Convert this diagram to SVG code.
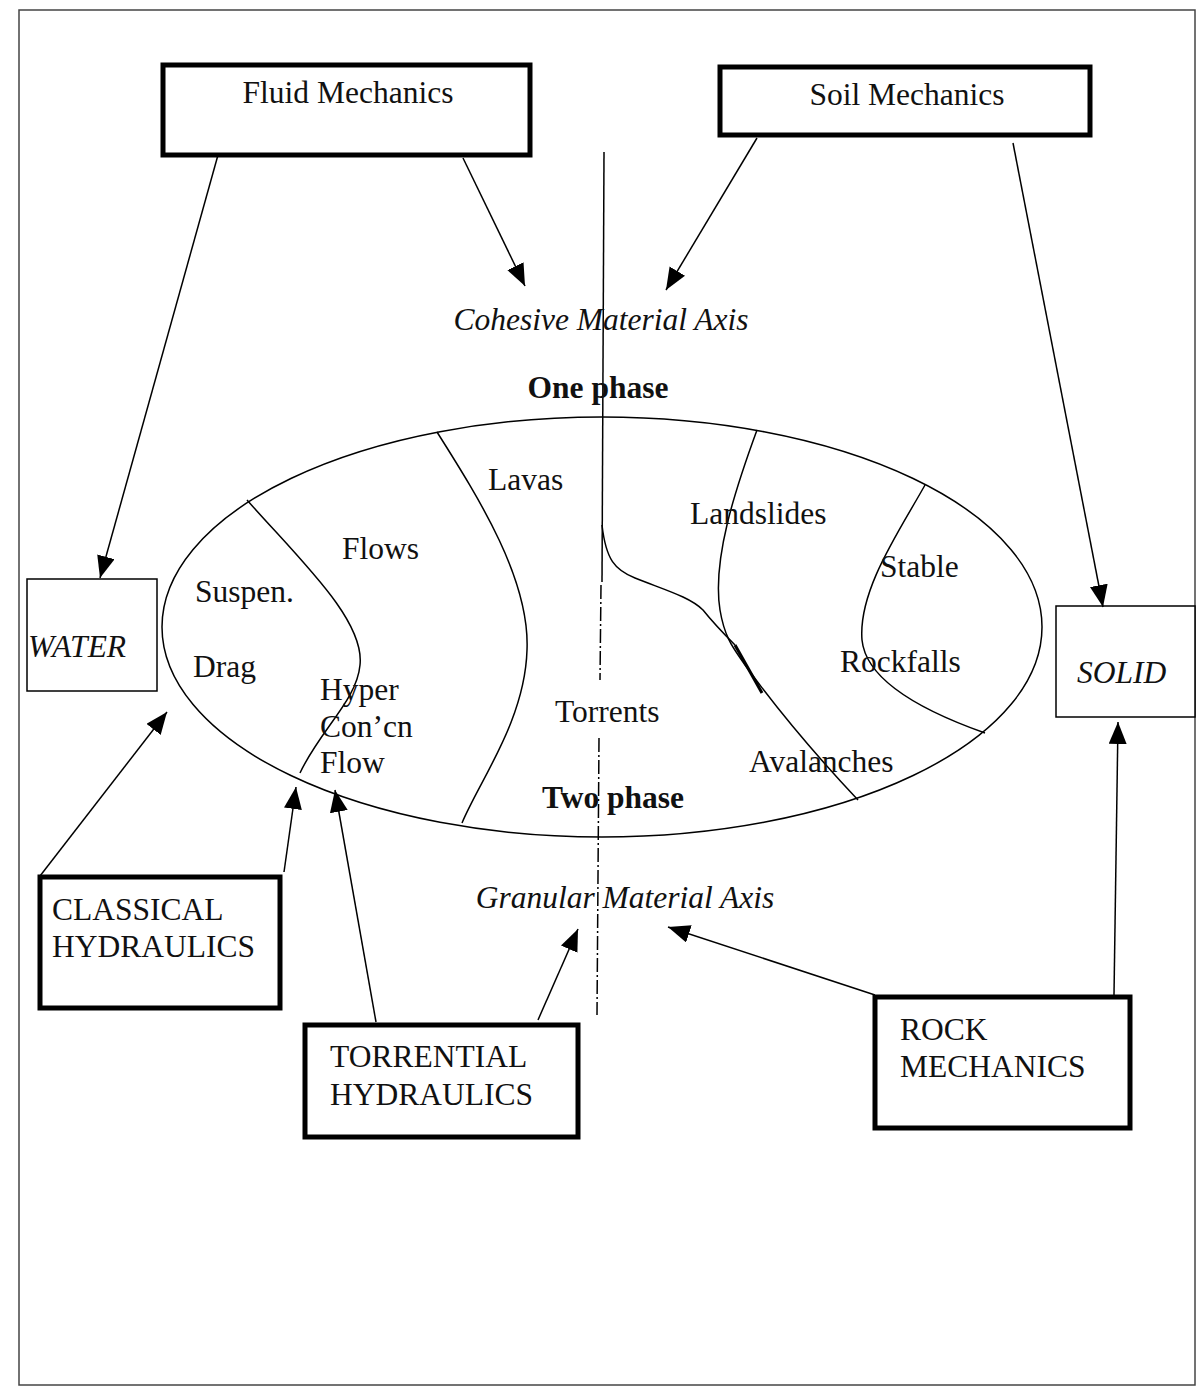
<svg xmlns="http://www.w3.org/2000/svg" width="1198" height="1389" viewBox="0 0 1198 1389">
<defs>
<marker id="ah" markerUnits="userSpaceOnUse" markerWidth="24" markerHeight="20" refX="22" refY="9" orient="auto">
<path d="M0,0 L22,9 L0,18 Z" fill="#000"/>
</marker>
<style>
text{font-family:"Liberation Serif","Times New Roman",serif;font-size:31.5px;fill:#111}
.it{font-style:italic}
.b{font-weight:bold}
.thick{fill:#fff;stroke:#000;stroke-width:5}
.thin{fill:#fff;stroke:#000;stroke-width:1.5}
.ln{fill:none;stroke:#000;stroke-width:1.5}
.ar{fill:none;stroke:#000;stroke-width:1.5;marker-end:url(#ah)}
</style>
</defs>
<rect x="0" y="0" width="1198" height="1389" fill="#fff"/>
<rect x="19" y="10" width="1176" height="1375" fill="none" stroke="#444" stroke-width="1.5"/>

<g id="ellipse">
<ellipse cx="602" cy="627" rx="440" ry="210" class="ln"/>
<path class="ln" d="M247,500 C300,560 365,620 360,665 C357,700 320,730 300,773"/>
<path class="ln" d="M437,432 C480,500 530,580 527,650 C525,720 480,780 462,823"/>
<path class="ln" d="M757,430 C735,490 712,560 720,610 C725,640 735,650 745,665 C785,720 825,765 858,800"/>
<path class="ln" d="M602,525 C606,560 615,570 635,578 C665,590 690,597 703,610 C715,625 725,635 735,645"/>
<path d="M735,645 L762,693" fill="none" stroke="#000" stroke-width="3"/>
<path class="ln" d="M925,485 C900,530 858,590 862,640 C866,680 920,710 985,733"/>
</g>

<g id="axis">
<path class="ln" d="M604,152 L602,582"/>
<path d="M601,585 L600,680 M599,738 L597,1015" fill="none" stroke="#000" stroke-width="1.5" stroke-dasharray="14 3 2 3"/>
</g>

<g id="fluid-mechanics">
<rect class="thick" x="163" y="65" width="367" height="90"/>
<text x="348" y="103" text-anchor="middle">Fluid Mechanics</text>
</g>
<g id="soil-mechanics">
<rect class="thick" x="720" y="67" width="370" height="68"/>
<text x="907" y="105" text-anchor="middle">Soil Mechanics</text>
</g>
<g id="water">
<rect class="thin" x="27" y="579" width="130" height="112"/>
<text class="it" x="28" y="657">WATER</text>
</g>
<g id="solid">
<rect class="thin" x="1056" y="606" width="139" height="111"/>
<text class="it" x="1077" y="683">SOLID</text>
</g>
<g id="classical-hydraulics">
<rect class="thick" x="40" y="877" width="240" height="131"/>
<text x="52" y="920">CLASSICAL</text>
<text x="52" y="957">HYDRAULICS</text>
</g>
<g id="torrential-hydraulics">
<rect class="thick" x="305" y="1025" width="273" height="112"/>
<text x="330" y="1067">TORRENTIAL</text>
<text x="330" y="1105">HYDRAULICS</text>
</g>
<g id="rock-mechanics">
<rect class="thick" x="875" y="997" width="255" height="131"/>
<text x="900" y="1040">ROCK</text>
<text x="900" y="1077">MECHANICS</text>
</g>

<g id="labels">
<text class="it" x="601" y="330" text-anchor="middle">Cohesive Material Axis</text>
<text class="b" x="598" y="398" text-anchor="middle">One phase</text>
<text x="488" y="490">Lavas</text>
<text x="690" y="524">Landslides</text>
<text x="342" y="559">Flows</text>
<text x="880" y="577">Stable</text>
<text x="195" y="602">Suspen.</text>
<text x="193" y="677">Drag</text>
<text x="840" y="672">Rockfalls</text>
<text x="320" y="700">Hyper</text>
<text x="555" y="722">Torrents</text>
<text x="320" y="737">Con’cn</text>
<text x="749" y="772">Avalanches</text>
<text x="320" y="773">Flow</text>
<text class="b" x="542" y="808">Two phase</text>
<text class="it" x="625" y="908" text-anchor="middle">Granular Material Axis</text>
</g>

<g id="connectors">
<line class="ar" x1="218" y1="155" x2="100" y2="578"/>
<line class="ar" x1="463" y1="158" x2="525" y2="286"/>
<line class="ar" x1="757" y1="138" x2="666" y2="290"/>
<line class="ar" x1="1013" y1="143" x2="1103" y2="607"/>
<line class="ar" x1="40" y1="876" x2="167" y2="712"/>
<line class="ar" x1="284" y1="872" x2="296" y2="787"/>
<line class="ar" x1="376" y1="1022" x2="335" y2="790"/>
<line class="ar" x1="538" y1="1020" x2="578" y2="929"/>
<line class="ar" x1="875" y1="995" x2="668" y2="927"/>
<line class="ar" x1="1114" y1="995" x2="1118" y2="722"/>
</g>
</svg>
